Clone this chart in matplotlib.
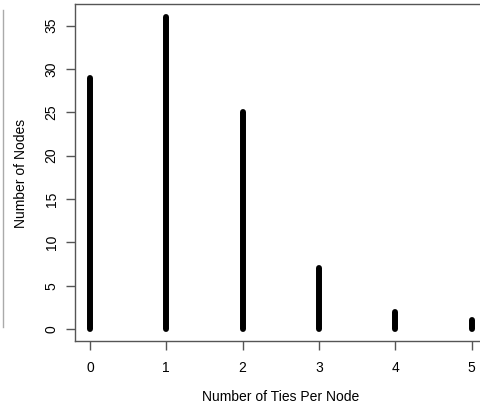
import numpy as np
import matplotlib.pyplot as plt
from matplotlib.lines import Line2D

plt.rcParams['font.family'] = ['Liberation Sans', 'DejaVu Sans']

ties = [0, 1, 2, 3, 4, 5]
nodes = [29, 36, 25, 7, 2, 1]
yticks = [0, 5, 10, 15, 20, 25, 30, 35]

fig = plt.figure(figsize=(4.81, 4.08), dpi=100)
ax = fig.add_axes([0.1553, 0.163, 0.857, 0.826])

# degree histogram drawn as thick vertical spikes
ax.vlines(ties, 0, nodes, color='black', linewidth=4.3, capstyle='round')

ax.set_xlim(-0.2, 5.2)
ax.set_ylim(-1.44, 37.44)
ax.set_xticks(ties)
ax.set_yticks(yticks)
ax.set_yticklabels([str(v) for v in yticks], rotation=90, va='center')
ax.tick_params(axis='both', length=6.5, width=1, color='#555555', labelsize=10)
ax.tick_params(axis='x', pad=7.5)
ax.tick_params(axis='y', pad=5)
for s in ax.spines.values():
    s.set_color('#555555')
    s.set_linewidth(1)

ax.set_xlabel('Number of Ties Per Node', fontsize=10, labelpad=11)
ax.set_ylabel('Number of Nodes', fontsize=10, labelpad=12)

# border of the neighbouring panel on the left
fig.add_artist(Line2D([3/481, 3/481], [1 - 10/408, 1 - 327/408], color='#aaaaaa', linewidth=1))

fig.savefig('out.png', dpi=100)
